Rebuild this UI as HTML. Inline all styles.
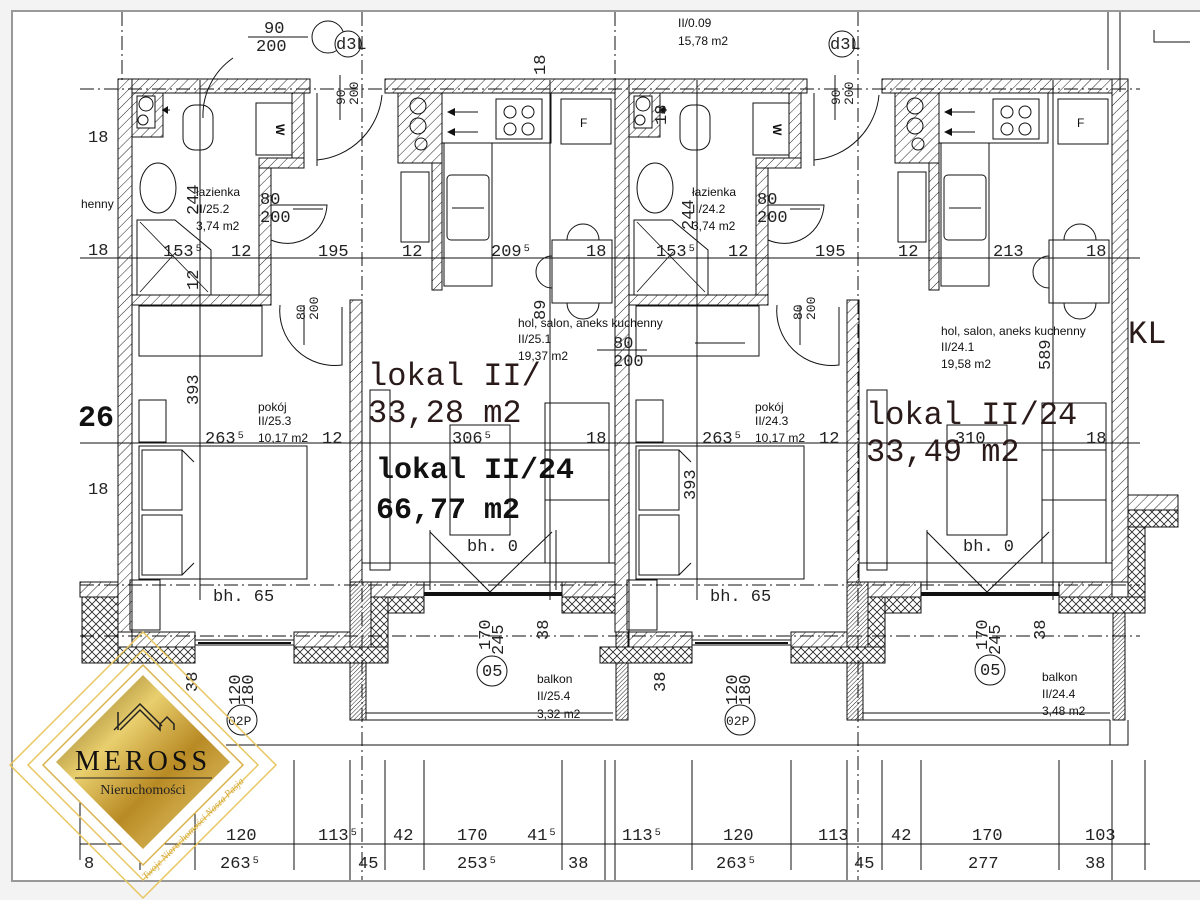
<!DOCTYPE html>
<html><head><meta charset="utf-8"><style>
html,body{margin:0;padding:0;background:#f3f3f3;width:1200px;height:900px;overflow:hidden}
svg{display:block}
.m{font-family:"Liberation Mono",monospace;font-size:17px;fill:#222}
.s{font-family:"Liberation Sans",sans-serif;font-size:12px;fill:#111}
.big{font-family:"Liberation Mono",monospace;font-size:32px;fill:#2a1a1a}
.bb{font-family:"Liberation Mono",monospace;font-size:30px;font-weight:bold;fill:#111}
</style></head><body>
<svg width="1200" height="900" viewBox="0 0 1200 900" xmlns="http://www.w3.org/2000/svg">
<defs>
<pattern id="h" width="7" height="7" patternUnits="userSpaceOnUse" patternTransform="rotate(45)"><rect width="7" height="7" fill="#fff"/><line x1="0" y1="0" x2="0" y2="7" stroke="#222" stroke-width="1"/></pattern>
<pattern id="hd" width="3" height="3" patternUnits="userSpaceOnUse" patternTransform="rotate(45)"><rect width="3" height="3" fill="#fff"/><line x1="0" y1="0" x2="0" y2="3" stroke="#222" stroke-width="1"/></pattern>
<pattern id="x" width="8" height="8" patternUnits="userSpaceOnUse"><rect width="8" height="8" fill="#fff"/><path d="M0 0L8 8M8 0L0 8" stroke="#222" stroke-width="0.8"/></pattern>
<linearGradient id="g" x1="0" y1="0" x2="1" y2="1"><stop offset="0" stop-color="#7a5a12"/><stop offset="0.35" stop-color="#e9cf6e"/><stop offset="0.6" stop-color="#b88a24"/><stop offset="1" stop-color="#f0d67a"/></linearGradient>
<g id="unit">
 <!-- walls -->
 <rect x="118" y="79" width="192" height="14" fill="url(#h)" stroke="#111"/>
 <rect x="385" y="79" width="230" height="14" fill="url(#h)" stroke="#111"/>
 <rect x="118" y="79" width="14" height="553" fill="url(#h)" stroke="#111"/>
 <rect x="132" y="93" width="31" height="44" fill="url(#h)" stroke="#111"/>
 <rect x="137" y="96" width="18" height="32" fill="#fff" stroke="#111"/>
 <circle cx="146" cy="104" r="7" fill="none" stroke="#111"/><circle cx="143" cy="120" r="5" fill="none" stroke="#111"/>
 <rect x="292" y="93" width="12" height="72" fill="url(#h)" stroke="#111"/>
 <rect x="259" y="158" width="45" height="10" fill="url(#h)" stroke="#111"/>
 <rect x="256" y="103" width="36" height="52" fill="#fff" stroke="#111"/>
 <text x="268" y="124" class="s" font-weight="bold" transform="rotate(90 272 128)">W</text>
 <rect x="259" y="168" width="12" height="127" fill="url(#h)" stroke="#111"/>
 <rect x="132" y="295" width="139" height="10" fill="url(#h)" stroke="#111"/>
 <rect x="350" y="300" width="12" height="282" fill="url(#h)" stroke="#111"/>
 <rect x="398" y="93" width="44" height="70" fill="url(#h)" stroke="#111"/>
 <circle cx="418" cy="106" r="8" fill="none" stroke="#111"/><circle cx="418" cy="126" r="8" fill="none" stroke="#111"/><circle cx="421" cy="144" r="6" fill="none" stroke="#111"/>
 <rect x="432" y="163" width="10" height="127" fill="url(#h)" stroke="#111"/>
 <!-- bath fixtures -->
 <rect x="183" y="105" width="30" height="45" rx="12" fill="none" stroke="#111"/>
 <path d="M170 110h-8" stroke="#111"/><path d="M162 110l6-4v8z" fill="#111"/>
 <ellipse cx="158" cy="188" rx="18" ry="25" fill="none" stroke="#111"/>
 <path d="M137 220h38l36 30v45h-74z" fill="none" stroke="#111"/>
 <path d="M140 222l68 70M140 292l36-40" stroke="#111" stroke-width="0.8"/>
 <!-- doors -->
 <path d="M317 93v73" stroke="#111"/><path d="M317 160a72 72 0 0 0 65-65" fill="none" stroke="#111"/>
 <path d="M271 205h56a40 40 0 0 1-56 35" fill="none" stroke="#111"/>
 <path d="M280 305a55 55 0 0 0 62 60v-58" fill="none" stroke="#111"/>
 <!-- kitchen -->
 <rect x="442" y="93" width="109" height="50" fill="none" stroke="#111"/>
 <rect x="496" y="99" width="46" height="40" fill="none" stroke="#111"/>
 <circle cx="510" cy="112" r="6" fill="none" stroke="#111"/><circle cx="528" cy="112" r="6" fill="none" stroke="#111"/><circle cx="510" cy="129" r="6" fill="none" stroke="#111"/><circle cx="528" cy="129" r="6" fill="none" stroke="#111"/>
 <rect x="561" y="99" width="50" height="45" fill="none" stroke="#111"/><text x="580" y="127" class="s" font-size="14">F</text>
 <path d="M478 112h-30M478 132h-30" stroke="#111"/><path d="M447 112l8-4v8zM447 132l8-4v8z" fill="#111"/>
 <rect x="444" y="143" width="48" height="143" fill="none" stroke="#111"/>
 <rect x="447" y="175" width="42" height="65" rx="4" fill="none" stroke="#111"/><path d="M452 208h32" stroke="#111"/>
 <rect x="401" y="172" width="28" height="70" fill="none" stroke="#111"/>
 <rect x="552" y="240" width="60" height="63" fill="none" stroke="#111"/>
 <path d="M567 240a16 16 0 0 1 32 0M567 303a16 16 0 0 0 32 0M552 256a14 14 0 0 0 0 32" fill="none" stroke="#111"/>
 <!-- pokoj furniture -->
 <rect x="139" y="306" width="123" height="50" fill="none" stroke="#111"/>
 <rect x="139" y="400" width="27" height="42" fill="none" stroke="#111"/>
 <rect x="139" y="446" width="168" height="133" fill="none" stroke="#111"/>
 <rect x="142" y="450" width="40" height="60" fill="none" stroke="#111"/><rect x="142" y="515" width="40" height="60" fill="none" stroke="#111"/>
 <path d="M182 450l12 12M182 575l12-12" stroke="#111"/>
 <rect x="130" y="580" width="30" height="50" fill="none" stroke="#111"/>
 <!-- salon furniture -->
 <rect x="370" y="390" width="20" height="180" fill="none" stroke="#111"/>
 <rect x="450" y="425" width="60" height="110" fill="none" stroke="#111"/>
 <rect x="545" y="403" width="64" height="160" fill="none" stroke="#111"/><path d="M545 450h64M545 500h64" stroke="#111"/>
 <path d="M430 530v60M556 530v60M430 532l60 60 62-60" fill="none" stroke="#111"/>
 <rect x="362" y="563" width="253" height="19" fill="none" stroke="#111"/>
 <!-- bottom walls -->
 <rect x="362" y="582" width="62" height="15" fill="url(#h)" stroke="#111"/>
 <rect x="562" y="582" width="53" height="15" fill="url(#h)" stroke="#111"/>
 <rect x="424" y="592" width="138" height="4" fill="#111"/>
 <rect x="373" y="597" width="51" height="16" fill="url(#x)" stroke="#111"/>
 <rect x="562" y="597" width="53" height="16" fill="url(#x)" stroke="#111"/>
 <rect x="350" y="582" width="21" height="81" fill="url(#hd)" stroke="#111"/>
 <rect x="371" y="597" width="17" height="66" fill="url(#x)" stroke="#111"/>
 <rect x="132" y="632" width="63" height="15" fill="url(#h)" stroke="#111"/>
 <rect x="294" y="632" width="56" height="15" fill="url(#h)" stroke="#111"/>
 <rect x="195" y="640" width="99" height="5" fill="#fff" stroke="#111"/><rect x="198" y="642" width="93" height="2" fill="#111"/>
 <rect x="103" y="647" width="92" height="16" fill="url(#x)" stroke="#111"/>
 <rect x="294" y="647" width="94" height="16" fill="url(#x)" stroke="#111"/>
 <rect x="350" y="663" width="16" height="57" fill="url(#hd)" stroke="#111"/>
 <path d="M366 713h247M366 720h247" stroke="#111"/>
 <rect x="616" y="613" width="12" height="107" fill="url(#hd)" stroke="#111"/>
</g>
</defs>
<rect x="12" y="11" width="1200" height="870" fill="#fff" stroke="#999" stroke-width="2"/>
<use href="#unit"/>
<use href="#unit" transform="translate(497 0)"/>
<rect x="1112" y="79" width="16" height="503" fill="url(#h)" stroke="#111"/>
<rect x="1128" y="495" width="50" height="15" fill="url(#h)" stroke="#111"/>
<rect x="1128" y="510" width="50" height="17" fill="url(#x)" stroke="#111"/>
<rect x="1128" y="527" width="17" height="86" fill="url(#x)" stroke="#111"/>
<rect x="1059" y="597" width="86" height="16" fill="url(#x)" stroke="#111"/>
<rect x="80" y="582" width="38" height="15" fill="url(#h)" stroke="#111"/>
<rect x="82" y="597" width="36" height="66" fill="url(#x)" stroke="#111"/>
<path d="M226 745H1128V720M1110 745V720" fill="none" stroke="#111"/>
<path d="M1120 92V12M1108 70V12M1154 30v12h36" fill="none" stroke="#111"/>
<!-- grid lines -->
<g stroke="#111" stroke-width="1" fill="none">
<path d="M80 89H1140M80 585H1140M80 636H1140M362 12V880M858 12V880M122 12V80M615 12V80" stroke-dasharray="14 4 2 4"/>
<path d="M80 258H1140M80 443H1140M200 80V600M550 80V600M697 80V600M1053 80V600"/>
<path d="M80 844H1150M80 800V860M140 760V870M195 760V870M294 760V870M350 760V880M385 760V870M424 760V870M562 760V870M605 760V880M615 760V880M692 760V870M791 760V870M847 760V880M882 760V870M921 760V870M1059 760V870M1112 760V880M1145 760V870"/>
<path d="M233 58a70 70 0 0 0-30 60M248 37h60M597 350h50M695 343h50M293 209h30M790 209h30M800 305v40M304 305v40M340 75v45M835 75v45" />
</g>
<circle cx="328" cy="37" r="16" fill="#fff" stroke="#111"/>
<circle cx="348" cy="44" r="13" fill="#fff" stroke="#111"/><text x="336" y="49" class="m" font-size="12">d3L</text>
<circle cx="842" cy="44" r="13" fill="#fff" stroke="#111"/><text x="830" y="49" class="m" font-size="12">d3L</text>
<g fill="#fff" stroke="#111"><circle cx="492" cy="671" r="15"/><circle cx="990" cy="670" r="15"/><circle cx="242" cy="720" r="15"/><circle cx="740" cy="720" r="15"/></g>
<!-- texts -->
<g class="m" font-size="14">
<text x="264" y="33">90</text><text x="256" y="51">200</text>
<text x="260" y="204">80</text><text x="260" y="222">200</text>
<text x="757" y="204">80</text><text x="757" y="222">200</text>
<text x="613" y="348">80</text><text x="613" y="366">200</text>
<text x="482" y="676">05</text><text x="980" y="675">05</text>
<text x="228" y="725" font-size="13">02P</text><text x="726" y="725" font-size="13">02P</text>
<text x="213" y="601">bh. 65</text><text x="710" y="601">bh. 65</text>
<text x="467" y="551">bh. 0</text><text x="963" y="551">bh. 0</text>
</g>
<g class="m">
<text x="88" y="142">18</text><text x="88" y="255">18</text><text x="88" y="494">18</text>
<text x="163" y="256">153⁵</text><text x="231" y="256">12</text><text x="318" y="256">195</text><text x="402" y="256">12</text><text x="491" y="256">209⁵</text><text x="586" y="256">18</text>
<text x="656" y="256">153⁵</text><text x="728" y="256">12</text><text x="815" y="256">195</text><text x="898" y="256">12</text><text x="993" y="256">213</text><text x="1086" y="256">18</text>
<text x="205" y="443">263⁵</text><text x="322" y="443">12</text><text x="452" y="443">306⁵</text><text x="586" y="443">18</text>
<text x="702" y="443">263⁵</text><text x="819" y="443">12</text><text x="955" y="443">310</text><text x="1086" y="443">18</text>
<text x="130" y="840">13</text><text x="226" y="840">120</text><text x="318" y="840">113⁵</text><text x="393" y="840">42</text><text x="457" y="840">170</text><text x="527" y="840">41⁵</text>
<text x="622" y="840">113⁵</text><text x="723" y="840">120</text><text x="818" y="840">113</text><text x="891" y="840">42</text><text x="972" y="840">170</text><text x="1085" y="840">103</text>
<text x="84" y="868">8</text><text x="220" y="868">263⁵</text><text x="358" y="868">45</text><text x="457" y="868">253⁵</text><text x="568" y="868">38</text>
<text x="716" y="868">263⁵</text><text x="854" y="868">45</text><text x="968" y="868">277</text><text x="1085" y="868">38</text>
</g>
<g class="m" font-size="16">
<text transform="translate(198 405) rotate(-90)">393</text><text transform="translate(695 500) rotate(-90)">393</text>
<text transform="translate(198 215) rotate(-90)">244</text><text transform="translate(198 290) rotate(-90)">12</text>
<text transform="translate(693 230) rotate(-90)">244</text>
<text transform="translate(545 75) rotate(-90)">18</text><text transform="translate(666 125) rotate(-90)">18</text>
<text transform="translate(545 320) rotate(-90)">89</text><text transform="translate(1050 370) rotate(-90)">589</text>
<text transform="translate(490 650) rotate(-90)">170</text><text transform="translate(503 655) rotate(-90)">245</text>
<text transform="translate(987 650) rotate(-90)">170</text><text transform="translate(1000 655) rotate(-90)">245</text>
<text transform="translate(548 640) rotate(-90)">38</text><text transform="translate(1045 640) rotate(-90)">38</text>
<text transform="translate(197 692) rotate(-90)">38</text><text transform="translate(665 692) rotate(-90)">38</text>
<text transform="translate(240 705) rotate(-90)">120</text><text transform="translate(253 705) rotate(-90)">180</text>
<text transform="translate(737 705) rotate(-90)">120</text><text transform="translate(750 705) rotate(-90)">180</text>
<text transform="translate(345 105) rotate(-90)" font-size="13">90</text><text transform="translate(358 105) rotate(-90)" font-size="13">200</text>
<text transform="translate(840 105) rotate(-90)" font-size="13">90</text><text transform="translate(853 105) rotate(-90)" font-size="13">200</text>
<text transform="translate(305 320) rotate(-90)" font-size="13">80</text><text transform="translate(318 320) rotate(-90)" font-size="13">200</text>
<text transform="translate(802 320) rotate(-90)" font-size="13">80</text><text transform="translate(815 320) rotate(-90)" font-size="13">200</text>
</g>
<g class="s">
<text x="678" y="27">II/0.09</text><text x="678" y="45">15,78 m2</text>
<text x="196" y="196">łazienka</text><text x="196" y="213">II/25.2</text><text x="196" y="230">3,74 m2</text>
<text x="692" y="196">łazienka</text><text x="692" y="213">II/24.2</text><text x="692" y="230">3,74 m2</text>
<text x="81" y="208">henny</text>
<text x="518" y="327">hol, salon, aneks kuchenny</text><text x="518" y="343">II/25.1</text><text x="518" y="360">19,37 m2</text>
<text x="941" y="335">hol, salon, aneks kuchenny</text><text x="941" y="351">II/24.1</text><text x="941" y="368">19,58 m2</text>
<text x="258" y="411">pokój</text><text x="258" y="425">II/25.3</text><text x="258" y="442">10,17 m2</text>
<text x="755" y="411">pokój</text><text x="755" y="425">II/24.3</text><text x="755" y="442">10,17 m2</text>
<text x="537" y="683">balkon</text><text x="537" y="700">II/25.4</text><text x="537" y="718">3,32 m2</text>
<text x="1042" y="681">balkon</text><text x="1042" y="698">II/24.4</text><text x="1042" y="715">3,48 m2</text>
</g>
<text x="368" y="385" class="big">lokal II/</text>
<text x="368" y="422" class="big">33,28 m2</text>
<text x="376" y="478" class="bb">lokal II/24</text>
<text x="376" y="518" class="bb">66,77 m2</text>
<text x="866" y="424" class="big">lokal II/24</text>
<text x="866" y="461" class="big">33,49 m2</text>
<text x="1128" y="343" class="big" font-size="30">KL</text>
<text x="78" y="426" class="bb" font-size="28">26</text>
<!-- logo -->
<g>
<path d="M143 650L258 765L143 880L28 765Z" fill="none" stroke="#e8c760" stroke-width="1.5"/>
<path d="M143 632L276 765L143 898L10 765Z" fill="none" stroke="#e8c760" stroke-width="1.5" clip-path="none"/>
<path d="M143 665L243 765L143 865L43 765Z" fill="#fff" stroke="#d9b24a" stroke-width="1.5"/>
<path d="M143 675L230 762L143 849L56 762Z" fill="url(#g)"/>
<path d="M114 730l26-26 22 22M118 730v-18M120 730l20-20 20 20v-6l7-7 7 7v6" fill="none" stroke="#222" stroke-width="1.5"/>
<text x="143" y="770" text-anchor="middle" font-family="Liberation Serif,serif" font-size="28" letter-spacing="4" fill="#111">MEROSS</text>
<path d="M75 778H212" stroke="#222"/>
<text x="143" y="794" text-anchor="middle" font-family="Liberation Serif,serif" font-size="14" fill="#222">Nieruchomości</text>
<text transform="translate(146 880) rotate(-45)" font-family="Liberation Serif,serif" font-style="italic" font-size="10" fill="#d4a93c">Twoje Nieruchomości Nasza Pasja</text>
</g>
</svg>
</body></html>
